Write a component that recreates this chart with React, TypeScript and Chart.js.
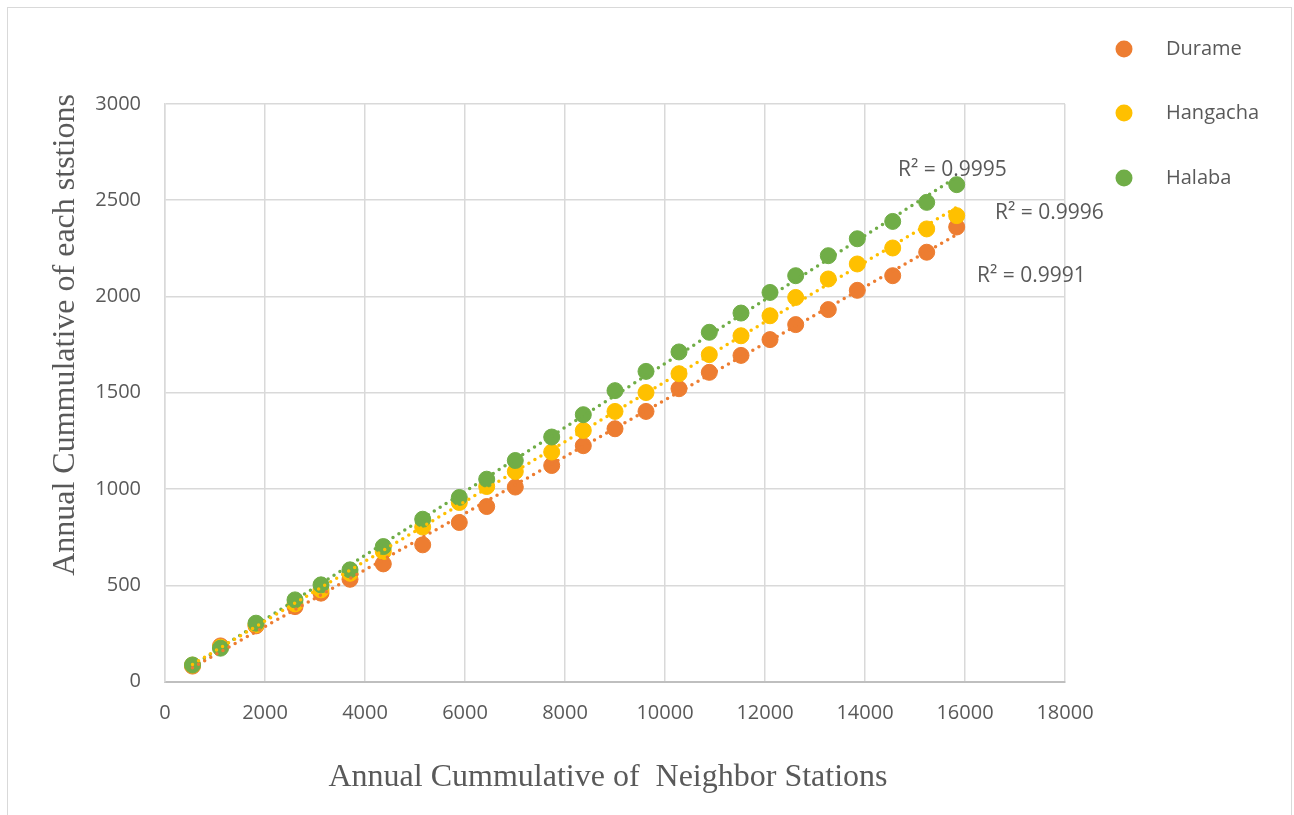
import React, { useEffect, useRef } from "react";
import { Chart, registerables } from "chart.js";

Chart.register(...registerables);

// ---- data ----
const neighborCumulative = [
  550, 1110, 1820, 2600, 3120, 3700, 4366, 5154, 5886, 6434, 7006, 7734, 8366,
  9000, 9620, 10280, 10886, 11520, 12100, 12614, 13266, 13846, 14554, 15234, 15834,
];
const durameValues = [
  80, 185, 289, 389, 459, 531, 611, 710, 826, 909, 1010, 1122, 1225, 1313, 1403,
  1521, 1606, 1694, 1776, 1854, 1932, 2032, 2108, 2230, 2361,
];
const hangachaValues = [
  85, 178, 295, 403, 476, 562, 675, 802, 930, 1013, 1091, 1192, 1304, 1403, 1501,
  1599, 1698, 1796, 1900, 1995, 2091, 2169, 2252, 2351, 2420,
];
const halabaValues = [
  86, 173, 303, 424, 502, 580, 701, 843, 956, 1051, 1148, 1270, 1386, 1511, 1611,
  1712, 1814, 1914, 2021, 2108, 2212, 2300, 2390, 2489, 2581,
];
const seriesNames = ["Durame", "Hangacha", "Halaba"];
const seriesColors = ["#ED7D31", "#FFC000", "#70AD47"];
const rSquaredLabels = ["R² = 0.9991", "R² = 0.9996", "R² = 0.9995"];
const xTitle = "Annual Cummulative of  Neighbor Stations";
const yTitle = "Annual Cummulative of each ststions";

const TEXT = "#595959";
const TICK_FONT = "'Open Sans', sans-serif";
const TITLE_FONT = "'Liberation Serif', 'Times New Roman', serif";

function linearFit(xs: number[], ys: number[]) {
  const n = xs.length;
  let sx = 0, sy = 0, sxx = 0, sxy = 0;
  for (let i = 0; i < n; i++) {
    sx += xs[i]; sy += ys[i]; sxx += xs[i] * xs[i]; sxy += xs[i] * ys[i];
  }
  const slope = (n * sxy - sx * sy) / (n * sxx - sx * sx);
  const intercept = (sy - slope * sx) / n;
  return (x: number) => slope * x + intercept;
}

const decorPlugin = {
  id: "decor",
  beforeDraw(chart: any) {
    const ctx = chart.ctx;
    ctx.save();
    ctx.fillStyle = "#ffffff";
    ctx.fillRect(0, 0, chart.width, chart.height);
    ctx.strokeStyle = "#d9d9d9";
    ctx.lineWidth = 1;
    ctx.strokeRect(7.5, 7.5, 1284, 900);
    ctx.restore();
  },
  afterDraw(chart: any) {
    const ctx = chart.ctx;
    ctx.save();
    // R² labels
    ctx.fillStyle = TEXT;
    ctx.font = `21px ${TICK_FONT}`;
    ctx.textBaseline = "middle";
    ctx.textAlign = "left";
    const rPos = [
      [977, 276],
      [995, 213],
      [898, 170],
    ];
    rSquaredLabels.forEach((t, i) => ctx.fillText(t, rPos[i][0], rPos[i][1]));

    // legend
    ctx.font = `20px ${TICK_FONT}`;
    const legendY = [49, 113, 178];
    seriesNames.forEach((name, i) => {
      ctx.beginPath();
      ctx.fillStyle = seriesColors[i];
      ctx.arc(1124, legendY[i], 8.5, 0, Math.PI * 2);
      ctx.fill();
      ctx.fillStyle = TEXT;
      ctx.fillText(name, 1166, legendY[i]);
    });

    // axis titles
    ctx.font = `32px ${TITLE_FONT}`;
    ctx.textAlign = "center";
    ctx.fillStyle = TEXT;
    ctx.fillText(xTitle, 608, 778);
    ctx.translate(66, 335);
    ctx.rotate(-Math.PI / 2);
    ctx.fillText(yTitle, 0, 0);
    ctx.restore();
  },
};

export default function App() {
  const ref = useRef<HTMLCanvasElement>(null);

  useEffect(() => {
    if (!ref.current) return;
    const seriesValues = [durameValues, hangachaValues, halabaValues];
    const xMin = Math.min(...neighborCumulative);
    const xMax = Math.max(...neighborCumulative);

    const scatterSets = seriesValues.map((vals, i) => ({
      type: "scatter" as const,
      label: seriesNames[i],
      data: neighborCumulative.map((x, j) => ({ x, y: vals[j] })),
      backgroundColor: seriesColors[i],
      borderColor: seriesColors[i],
      borderWidth: 1,
      pointRadius: 8,
      pointHoverRadius: 8,
      order: 3 - i,
    }));
    const trendSets = seriesValues.map((vals, i) => {
      const f = linearFit(neighborCumulative, vals);
      return {
        type: "scatter" as const,
        label: seriesNames[i] + " trend",
        data: [
          { x: xMin, y: f(xMin) },
          { x: xMax, y: f(xMax) },
        ],
        showLine: true,
        borderColor: seriesColors[i],
        backgroundColor: seriesColors[i],
        borderWidth: 3.5,
        borderDash: [0, 7],
        borderCapStyle: "round" as const,
        pointRadius: 0,
        order: 0,
      };
    });

    const chart = new Chart(ref.current, {
      type: "scatter",
      data: { datasets: [...scatterSets, ...trendSets] as any },
      options: {
        animation: false,
        responsive: false,
        devicePixelRatio: 1,
        layout: { padding: { left: 0, top: 104, right: 229, bottom: 0 } },
        plugins: {
          legend: { display: false },
          tooltip: { enabled: false },
          title: { display: false },
        },
        scales: {
          x: {
            type: "linear",
            min: 0,
            max: 18000,
            ticks: {
              stepSize: 2000,
              color: TEXT,
              font: { family: TICK_FONT, size: 20 },
              padding: 20,
              maxRotation: 0,
              callback: (v: any) => String(v),
            },
            grid: { color: "#d9d9d9", lineWidth: 1.5, drawTicks: false },
            border: { color: "#bfbfbf", width: 2 },
            afterFit: (s: any) => {
              s.height = 133.5;
            },
          },
          y: {
            type: "linear",
            min: 0,
            max: 3000,
            ticks: {
              stepSize: 500,
              color: TEXT,
              font: { family: TICK_FONT, size: 20 },
              padding: 24,
              callback: (v: any) => String(v),
            },
            grid: { color: "#d9d9d9", lineWidth: 1.5, drawTicks: false },
            border: { color: "#d9d9d9", width: 1.5 },
            afterFit: (s: any) => {
              s.width = 165;
            },
          },
        },
      },
      plugins: [decorPlugin],
    });
    return () => chart.destroy();
  }, []);

  return (
    <div style={{ position: "absolute", left: 0, top: 0, width: 1294, height: 815, background: "#fff" }}>
      <canvas ref={ref} width={1294} height={815} style={{ display: "block" }} />
    </div>
  );
}
